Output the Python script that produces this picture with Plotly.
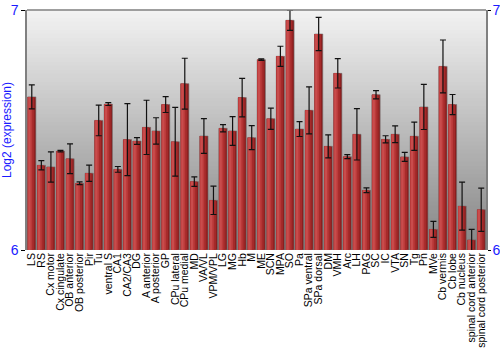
import plotly.graph_objects as go

categories = ["LS", "RS", "Cx motor", "Cx cingulate", "OB anterior", "OB posterior", "Pir", "Tu",
              "ventral S", "CA1", "CA2/CA3", "DG", "A anterior", "A posterior", "GP", "CPu lateral",
              "CPu medial", "MD", "VA/VL", "VPM/VPL", "LG", "MG", "Hb", "M", "ME", "SCN", "MPA", "SO",
              "Pa", "SPa ventral", "SPa dorsal", "DM", "VMH", "Arc", "LH", "PAG", "SC", "IC", "VTA", "SN",
              "Tg", "Pn", "MVe", "Cb vermis", "Cb lobe", "Cb nucleus", "spinal cord anterior",
              "spinal cord posterior"]

values = [6.638, 6.353, 6.346, 6.412, 6.380, 6.278, 6.320, 6.540,
          6.608, 6.336, 6.460, 6.454, 6.511, 6.496, 6.606, 6.451,
          6.693, 6.285, 6.475, 6.207, 6.507, 6.496, 6.635, 6.468,
          6.793, 6.547, 6.807, 6.957, 6.504, 6.582, 6.900, 6.432,
          6.736, 6.389, 6.482, 6.249, 6.647, 6.461, 6.482, 6.388,
          6.474, 6.596, 6.086, 6.765, 6.606, 6.183, 6.042, 6.168]

errors = [0.050, 0.019, 0.063, 0.003, 0.062, 0.006, 0.034, 0.064,
          0.006, 0.012, 0.150, 0.014, 0.113, 0.055, 0.033, 0.143,
          0.106, 0.020, 0.072, 0.059, 0.015, 0.060, 0.080, 0.050,
          0.003, 0.044, 0.042, 0.042, 0.031, 0.098, 0.069, 0.048,
          0.061, 0.008, 0.107, 0.010, 0.017, 0.015, 0.035, 0.019,
          0.059, 0.094, 0.033, 0.110, 0.042, 0.100, 0.044, 0.090]

y_min, y_max = 6, 7
bases = [y_min] * len(values)
heights = [v - y_min for v in values]

fig = go.Figure()

# background vertical gradient
n_bands = 60
top_c = (242, 242, 242)
bot_c = (133, 133, 133)
for i in range(n_bands):
    t = i / (n_bands - 1)
    c = tuple(int(round(top_c[k] + (bot_c[k] - top_c[k]) * t)) for k in range(3))
    fig.add_shape(type="rect", xref="paper", yref="paper",
                  x0=0, x1=1, y0=1 - (i + 1) / n_bands, y1=1 - i / n_bands + 0.001,
                  fillcolor="rgb(%d,%d,%d)" % c, line=dict(width=0), layer="below")

# bar slices to fake a horizontal gradient (light left -> dark right)
full_w = 0.86
slices = [(0.0, 1.0, "#8a1e1e"), (0.0, 0.8, "#a52a2a"), (0.0, 0.55, "#bb3a3a"), (0.08, 0.35, "#c94c4c")]
for k, (a, b, col) in enumerate(slices):
    fig.add_trace(go.Bar(
        x=categories, y=heights, base=bases,
        width=full_w * (b - a), offset=-full_w / 2 + full_w * a,
        marker=dict(color=col,
                    line=dict(color="rgba(110,110,110,0.6)", width=1 if k == 0 else 0)),
        hoverinfo="skip", showlegend=False))

# error bars
fig.add_trace(go.Scatter(
    x=categories, y=values, mode="markers",
    marker=dict(size=1, opacity=0),
    error_y=dict(type="data", array=errors, visible=True, color="#111111",
                 thickness=1.2, width=3),
    showlegend=False, hoverinfo="skip"))

# invisible trace for right axis
fig.add_trace(go.Scatter(x=[categories[0]], y=[y_min], yaxis="y2", mode="markers",
                         marker=dict(opacity=0), showlegend=False, hoverinfo="skip"))

# top border
fig.add_shape(type="line", xref="paper", yref="paper", x0=0, x1=1, y0=1, y1=1,
              line=dict(color="#808080", width=1.5))

fig.update_layout(
    width=500, height=350,
    margin=dict(l=27, r=14, t=10, b=100),
    paper_bgcolor="white", plot_bgcolor="rgba(0,0,0,0)",
    barmode="overlay",
    font=dict(family="Liberation Sans, Arial, sans-serif", size=11, color="black"),
    xaxis=dict(type="category", tickangle=-90, showgrid=False, zeroline=False,
               tickmode="array", tickvals=categories, ticktext=categories,
               ticks="", ticklen=0, tickfont=dict(size=10.5, color="black"),
               range=[-0.5, len(categories) - 0.5], showline=False, automargin=False),
    yaxis=dict(range=[y_min, y_max], tickvals=[6, 7], ticktext=["6", "7"],
               showgrid=False, zeroline=False, showline=True, linecolor="#808080", linewidth=1.5,
               ticks="outside", ticklen=4, tickcolor="black", automargin=False,
               tickfont=dict(size=14, color="#1a1aff"),
               title=dict(text="Log2 (expression)", font=dict(size=12, color="#1a1aff"), standoff=2)),
    yaxis2=dict(range=[y_min, y_max], tickvals=[6, 7], ticktext=["6", "7"],
                overlaying="y", side="right", showgrid=False, zeroline=False,
                showline=True, linecolor="#808080", linewidth=1.5, automargin=False,
                ticks="outside", ticklen=3, tickcolor="black", ticklabelstandoff=-1,
                tickfont=dict(size=14, color="#1a1aff")),
)

fig.write_html("out.html")
